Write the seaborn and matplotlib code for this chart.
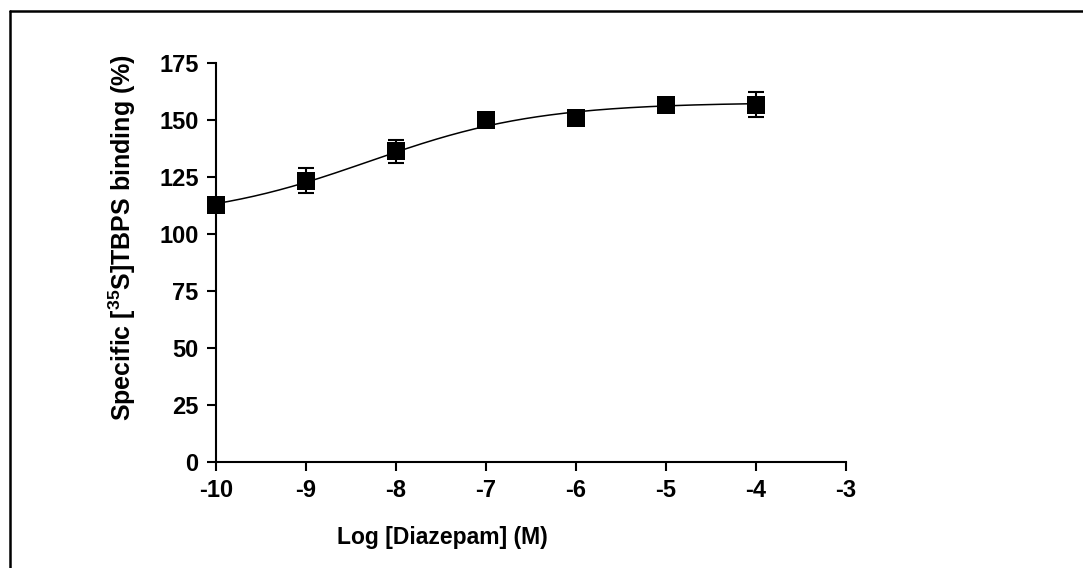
import numpy as np
import pandas as pd
import matplotlib
matplotlib.use("Agg")
import matplotlib.pyplot as plt
from matplotlib.lines import Line2D
import seaborn as sns

# data
log_conc = [-10, -9, -8, -7, -6, -5, -4]
binding = [112.8, 123.5, 136.3, 150.2, 150.8, 156.8, 156.8]
binding_sem = [1.5, 5.6, 5.0, 2.5, 1.5, 1.5, 5.5]

# sigmoid fit parameters (bottom, top, logEC50, hill slope)
fit_bottom = 106.0
fit_top = 157.8
fit_logec50 = -8.3
fit_hill = 0.46

x_ticks = [-10, -9, -8, -7, -6, -5, -4, -3]
y_ticks = [0, 25, 50, 75, 100, 125, 150, 175]

sns.set_theme(style="ticks")
plt.rcParams['font.family'] = ['Liberation Sans', 'DejaVu Sans']
plt.rcParams['font.weight'] = 'bold'
plt.rcParams['text.color'] = 'black'
plt.rcParams['axes.labelcolor'] = 'black'
plt.rcParams['xtick.color'] = 'black'
plt.rcParams['ytick.color'] = 'black'
plt.rcParams['mathtext.fontset'] = 'custom'
plt.rcParams['mathtext.bf'] = 'Liberation Sans:bold'
plt.rcParams['mathtext.rm'] = 'Liberation Sans:bold'

df = pd.DataFrame({"x": log_conc, "y": binding, "sem": binding_sem})

xfit = np.linspace(min(log_conc), max(log_conc), 300)
yfit = fit_bottom + (fit_top - fit_bottom) / (1 + 10 ** ((fit_logec50 - xfit) * fit_hill))
fit_df = pd.DataFrame({"x": xfit, "y": yfit})

fig = plt.figure(figsize=(10.83, 5.68), dpi=100)
ax = fig.add_axes([0.1994, 0.1871, 0.5818, 0.7015])

sns.lineplot(data=fit_df, x="x", y="y", ax=ax, color="black", linewidth=1.1)
eb = ax.errorbar(df["x"], df["y"], yerr=df["sem"], fmt="none", ecolor="black",
                 elinewidth=1.5, capsize=6, capthick=1.5, zorder=3)
for art in eb.get_children():
    art.set_clip_on(False)
sns.scatterplot(data=df, x="x", y="y", ax=ax, marker="s", s=160, color="black",
                edgecolor="black", linewidth=0, zorder=4, clip_on=False)

ax.set_xlim(-10, -3)
ax.set_ylim(0, 175)
ax.set_xticks(x_ticks)
ax.set_yticks(y_ticks)
ax.set_xticklabels([str(t) for t in x_ticks], fontsize=17, fontweight='bold')
ax.set_yticklabels([str(t) for t in y_ticks], fontsize=17, fontweight='bold')
ax.tick_params(axis='both', direction='out', length=6.5, width=1.5, color='black', pad=6)

for side in ['top', 'right']:
    ax.spines[side].set_visible(False)
for side in ['left', 'bottom']:
    ax.spines[side].set_linewidth(1.5)
    ax.spines[side].set_color('black')

ax.set_xlabel("Log [Diazepam] (M)", fontsize=16.5, fontweight='bold')
ax.set_ylabel(r"Specific [$^{\mathbf{35}}$S]TBPS binding (%)", fontsize=18, fontweight='bold')
ax.xaxis.set_label_coords(0.359, -0.189)
ax.yaxis.set_label_coords(-0.149, 0.562)
ax.xaxis.label.set_va('center')
ax.yaxis.label.set_va('center')

# partial frame around the figure (top and left edges only)
fig.add_artist(Line2D([0.0088, 1.0], [0.9798, 0.9798], transform=fig.transFigure, color='black', linewidth=1.8))
fig.add_artist(Line2D([0.0088, 0.0088], [0.0, 0.9798], transform=fig.transFigure, color='black', linewidth=1.8))

fig.savefig("out.png", dpi=100, facecolor="white")
